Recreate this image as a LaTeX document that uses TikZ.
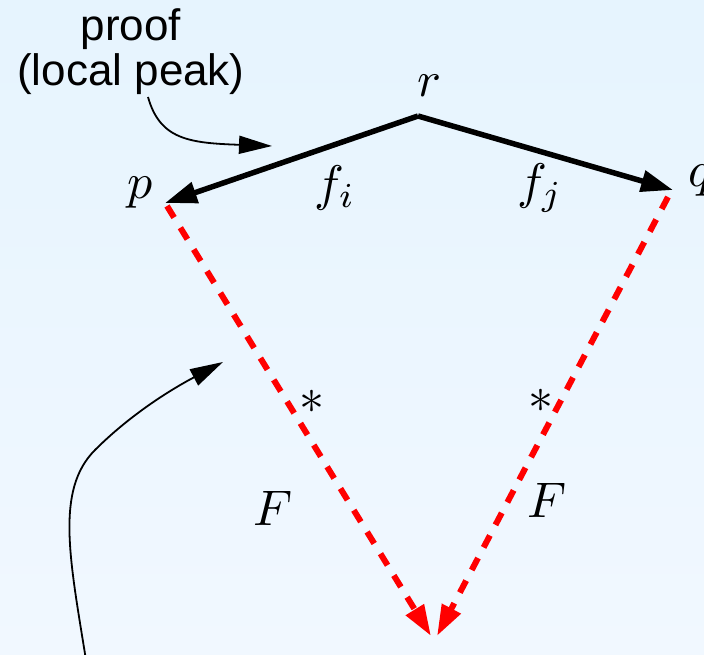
\documentclass[tikz,border=0pt]{standalone}
\usepackage{fontspec}
\newfontfamily\labelsans{Liberation Sans}
\usetikzlibrary{arrows.meta}
\definecolor{bgtop}{RGB}{230,244,254}
\definecolor{bgbot}{RGB}{241,248,255}
\newcommand{\hugemath}[1]{\scalebox{5}{$#1$}}
\tikzset{
  mathlbl/.style={inner sep=0pt},
  solidarrow/.style={line width=5.5pt, -{Triangle[length=32pt,width=21pt]}},
  redarrow/.style={line width=6pt, red, dash pattern=on 13.5pt off 12pt, -{Triangle[length=31pt,width=20pt]}},
  thinarrow/.style={line width=1.8pt, -{Triangle[length=33pt,width=18pt]}},
}
\begin{document}
\begin{tikzpicture}[x=1pt,y=-1pt]
\shade[top color=bgtop, bottom color=bgbot] (0,0) rectangle (704,655);
\useasboundingbox (0,0) rectangle (704,655);
\coordinate (r) at (418,116);
\coordinate (p) at (165,203);
\coordinate (q) at (673,190);
\coordinate (ps) at (167,206);
\coordinate (qs) at (668,197);
\coordinate (b1) at (431,636);
\coordinate (b2) at (437,636);
\node[mathlbl] (rl) at (429,86) {\hugemath{r}};
\node[mathlbl] (pl) at (140,193) {\hugemath{p}};
\node[mathlbl] (ql) at (701,181) {\hugemath{q}};
\node[mathlbl] (fi) at (335,188) {\hugemath{f_i}};
\node[mathlbl] (fj) at (540,188) {\hugemath{f_j}};
\node[mathlbl] (s1) at (312,402) {\hugemath{*}};
\node[mathlbl] (s2) at (541,401) {\hugemath{*}};
\node[mathlbl] (F1) at (273,508) {\hugemath{F}};
\node[mathlbl] (F2) at (547,500) {\hugemath{F}};
\node[font=\labelsans\fontsize{44}{45}\selectfont, align=center, inner sep=0pt] (proof) at (131,52) {proof\\(local peak)};
\draw[solidarrow] (r) -- (p);
\draw[solidarrow] (r) -- (q);
\draw[redarrow] (ps) -- (b1);
\draw[redarrow] (qs) -- (b2);
\coordinate (c1s) at (148,97);
\coordinate (c1e) at (272,146);
\draw[thinarrow] (c1s) .. controls (160,140) and (190,143) .. (c1e);
\coordinate (c2s) at (86,660);
\coordinate (c2e) at (223,362);
\draw[thinarrow] (c2s) .. controls (70,560) and (55,490) .. (95,450) .. controls (130,415) and (170,390) .. (c2e);
\end{tikzpicture}
\end{document}
